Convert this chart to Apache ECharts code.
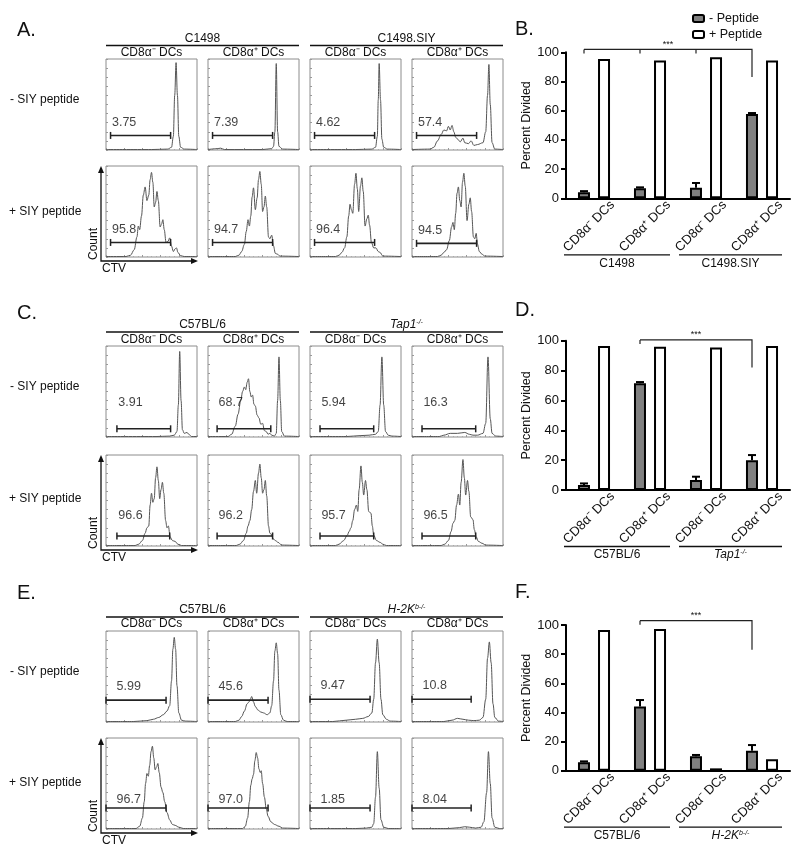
<!DOCTYPE html>
<html>
<head>
<meta charset="utf-8">
<script src="https://cdn.jsdelivr.net/npm/echarts@6/dist/echarts.min.js"></script>
<style>
  html, body { margin: 0; padding: 0; background: #fff; }
  #chart { width: 800px; height: 846px; }
</style>
</head>
<body>
<div id="chart"></div>
<script>
const FONT = '"Liberation Sans", Arial, Helvetica, sans-serif'
const INK = '#111'

// ---------- flow histograms: [CTV (% of axis), count (% of max)] ----------
// order: top row (- SIY) col 1..4, then bottom row (+ SIY) col 1..4
const histA = [
  [[0,0.5],[50,0.5],[68,1],[72,3],[74,15],[75.5,60],[77,96],[78.5,60],[80,15],[82,3],[86,1],[100,0.5]],
  [[0,0.5],[10,1.5],[14,2],[18,0.5],[60,0.5],[70,1.5],[72,4],[73.5,20],[75,95],[76.5,20],[78,4],[82,1],[100,0.5]],
  [[0,0.5],[50,0.5],[68,1],[72,3],[74,15],[75,55],[76,95],[77.5,55],[79,12],[81,3],[85,1],[100,0.5]],
  [[0,0.5],[20,1],[24,3],[28,10],[32,17],[35,22],[38,21],[40,26],[42,22],[44,27],[46,20],[48,14],[50,12],[53,9],[56,13],[58,8],[62,7],[65,10],[68,5],[72,6],[78,8],[81,20],[83,60],[84.5,94],[86,50],[88,8],[91,1],[100,0.5]],
  [[0,0.5],[22,0.5],[27,2],[31,8],[34,22],[35.5,34],[37,30],[39,45],[41,68],[43,77],[45,62],[47,68],[48.5,85],[50,93],[51.5,82],[53,55],[54.5,60],[56,72],[57.5,62],[59.5,33],[61,36],[62.5,41],[64,30],[66,16],[68,17],[70,21],[72,12],[74,6],[76,9],[77.5,10],[79,5],[82,1.5],[86,0.5],[100,0.5]],
  [[0,0.5],[30,0.5],[34,2],[37,6],[40,14],[42,28],[44,41],[45.5,34],[47,45],[48.5,66],[50,76],[52,52],[54,65],[55.5,85],[57,94],[58.5,80],[60,50],[61.5,55],[63,67],[64.5,55],[66.5,22],[68,20],[70,24],[72,12],[74,4],[76.5,3],[79,1],[100,0.5]],
  [[0,0.5],[28,0.5],[32,2],[35,5],[38,10],[40.5,22],[42.5,45],[44,58],[45.5,52],[47,48],[49,80],[50.5,92],[52,75],[53.5,50],[55.5,78],[57,87],[58.5,72],[60.5,34],[62.5,42],[64,46],[65.5,35],[67.5,16],[70,10],[72.5,10],[75,6],[77,5],[80,1],[100,0.5]],
  [[0,0.5],[28,0.5],[32,2],[35,5],[38,8],[41,18],[43.5,33],[45,38],[46.5,30],[48,48],[49.5,70],[51,77],[52.5,62],[54,55],[55.5,82],[57,92],[58.5,78],[60.5,40],[62.5,58],[64,65],[65.5,50],[67.5,22],[69,20],[70.5,26],[72,14],[74,6],[77,3],[80,1],[100,0.5]]
]
const histC = [
  [[0,0.5],[55,0.5],[70,1],[75,2],[78,6],[79.5,35],[81,94],[82.5,40],[84,8],[86,4],[89,5],[91,3],[94,0.5],[100,0.5]],
  [[0,0.5],[22,0.5],[26,3],[30,12],[33,25],[36,40],[38,50],[40,55],[41.5,52],[43,60],[44.5,64],[46,50],[47.5,44],[49,46],[50.5,36],[52,34],[54,24],[56,21],[58,14],[60,15],[62,7],[64,6],[66,3],[68,4],[70,2],[73,1],[75,4],[76.5,40],[78,88],[79.5,40],[81,6],[84,1],[100,0.5]],
  [[0,0.5],[40,0.5],[55,1.5],[65,2],[72,3],[75,6],[77,35],[79,88],[81,35],[83,6],[86,2],[90,1],[100,0.5]],
  [[0,0.5],[30,0.5],[35,2],[42,4],[50,4],[58,5],[63,3],[67,2],[72,2],[78,4],[81,15],[83.5,88],[86,20],[88,4],[92,1],[100,0.5]],
  [[0,0.5],[32,0.5],[36,2],[40,6],[43,14],[45,20],[47,22],[48.5,45],[50,58],[51.5,48],[53,52],[54.5,75],[56,87],[57.5,72],[59,52],[60.5,62],[62,70],[63.5,58],[65.5,28],[67,20],[68.5,22],[70.5,10],[73,6],[76,5],[79,2],[83,0.5],[100,0.5]],
  [[0,0.5],[31,0.5],[35,2],[39,6],[42,14],[44,22],[46,28],[48,40],[50,60],[52,72],[53.5,58],[55.5,80],[57,90],[58.5,75],[60,58],[61.5,62],[63,72],[64.5,55],[66.5,22],[68,14],[69.5,13],[71.5,8],[74,6],[77,4],[81,1],[100,0.5]],
  [[0,0.5],[28,0.5],[32,2],[37,6],[41,12],[43,16],[45,20],[47,28],[49,40],[51,45],[52.5,38],[54,62],[56,88],[57.5,70],[59,56],[61,72],[62.5,62],[64.5,38],[67,36],[68.5,22],[70,12],[73,6],[77,4],[80,2],[84,0.5],[100,0.5]],
  [[0,0.5],[32,0.5],[36,2],[40,6],[43,16],[45,25],[47,28],[49,45],[51,57],[52.5,45],[54,70],[56,95],[57.5,75],[59,56],[61,72],[62.5,60],[64.5,32],[67,29],[68.5,18],[70.5,10],[73,5],[77,3],[81,1],[100,0.5]]
]
const histE = [
  [[0,0.5],[30,0.5],[45,1.5],[52,3],[58,5],[63,8],[67,12],[70,18],[72,45],[73.5,80],[75,93],[76.5,80],[78,40],[80,10],[83,2],[87,1],[100,0.5]],
  [[0,0.5],[30,0.5],[34,2],[37,6],[40,12],[43,20],[45,22],[46.5,25],[48,28],[50,22],[52,17],[55,13],[58,11],[61,10],[65,8],[68,10],[70,18],[72,45],[73.5,78],[75,87],[76.5,75],[78,35],[80,8],[83,2],[87,0.5],[100,0.5]],
  [[0,0.5],[25,0.5],[40,2],[50,3],[58,4],[64,6],[68,10],[70,25],[72,65],[74,91],[76,65],[78,25],[80,8],[84,3],[88,1],[100,0.5]],
  [[0,0.5],[35,0.5],[44,2],[50,4],[56,3],[62,2],[68,1.5],[74,2],[78,5],[81,25],[83,70],[85,88],[87,65],[89,20],[91,5],[95,1],[100,0.5]],
  [[0,0.5],[33,0.5],[37,3],[40,12],[42,30],[43.5,50],[45,61],[46.5,58],[48,70],[49.5,85],[51,91],[52.5,78],[54,65],[55.5,68],[57,72],[58.5,62],[60.5,46],[62.5,40],[64.5,30],[67,18],[70,10],[73,5],[76,4],[80,2],[85,0.5],[100,0.5]],
  [[0,0.5],[38,0.5],[41,3],[43.5,12],[45.5,30],[47,48],[48.5,55],[50,60],[51.5,75],[53,84],[54.5,78],[56,66],[57.5,62],[58.5,64],[60,50],[62,35],[64,22],[66,14],[69,8],[73,5],[78,3],[82,1],[100,0.5]],
  [[0,0.5],[50,0.5],[62,1],[68,2],[70,6],[72,35],[74,85],[76,45],[78,10],[81,2],[86,0.5],[100,0.5]],
  [[0,0.5],[40,0.5],[52,1.5],[58,2.5],[63,2],[70,1],[76,2],[79,8],[82,40],[84,85],[86,50],[88,12],[91,2],[96,0.5],[100,0.5]]
]

// divided gate: [from, to, level, percent]
const gatesA = [
  [5,71,16,'3.75'], [5,71,16,'7.39'], [5,71,16,'4.62'], [5,71,16,'57.4'],
  [5,71,16,'95.8'], [5,71,16,'94.7'], [5,71,16,'96.4'], [5,71,15,'94.5']
]
const gatesC = [
  [12,71,9,'3.91'], [10,69,9,'68.7'], [11,70,9,'5.94'], [11,70,9,'16.3'],
  [12,70,11,'96.6'], [10,71,11,'96.2'], [11,70,11,'95.7'], [11,70,11,'96.5']
]
const gatesE = [
  [0,66,24,'5.99'], [0,66,24,'45.6'], [0,66,25,'9.47'], [0,65,25,'10.8'],
  [0,66,23,'96.7'], [0,66,23,'97.0'], [0,66,23,'1.85'], [0,65,23,'8.04']
]

// ---------- percent divided bar charts ----------
const dcTypes = ['CD8α⁻ DCs', 'CD8α⁺ DCs', 'CD8α⁻ DCs', 'CD8α⁺ DCs']
const minusB = [4.1, 6.8, 7.3, 57.7]
const minusErrB = [0.8, 0.7, 3.2, 0.7]
const plusB = [95.4, 94.3, 96.6, 94.3]
const minusD = [3.4, 71.5, 6.7, 20.0]
const minusErrD = [1.0, 0.8, 2.2, 3.4]
const plusD = [96.5, 96.0, 95.5, 96.5]
const minusF = [5.8, 44.0, 10.0, 13.7]
const minusErrF = [0.6, 4.5, 0.8, 3.9]
const plusF = [96.6, 97.3, 1.6, 7.8]
const yTicks = [0, 20, 40, 60, 80, 100]

const strainsA = ['C1498', 'C1498.SIY']
const strainsC = ['C57BL/6', '{i|Tap1}{s|-/-}']
const strainsE = ['C57BL/6', '{i|H-2K}{s|b-/-}']

// significance brackets: [from category, to category, level, drop]
const sigB = [0, 3, 102, 83]
const sigD = [1, 3, 100.5, 82]
const sigF = [1, 3, 103, 83]
const stubsB = [0, 1, 2]
const stubsD = [1]
const stubsF = [1]

// ---------- layout ----------
const COLS = [106, 208, 310, 412]
const BOX = 91
const sections = [
  { hist: histA, gates: gatesA, strains: strainsA, letter: 'A.', letterY: 30,
    head: 39, line: 45.5, sub: 53, rows: [59, 166], rowLab: [100, 212], labDy: [14, 14], labX: null },
  { hist: histC, gates: gatesC, strains: strainsC, letter: 'C.', letterY: 313,
    head: 325, line: 332, sub: 340, rows: [346, 455], rowLab: [387, 499], labDy: [29, 22], labX: null },
  { hist: histE, gates: gatesE, strains: strainsE, letter: 'E.', letterY: 593,
    head: 610, line: 617, sub: 624, rows: [631, 738], rowLab: [672, 783], labDy: [14.6, 9], labX: 11 }
]
const bars = [
  { minus: minusB, err: minusErrB, plus: plusB, sig: sigB, stubs: stubsB, strains: strainsA,
    letter: 'B.', letterY: 29, top: 52.3, height: 146 },
  { minus: minusD, err: minusErrD, plus: plusD, sig: sigD, stubs: stubsD, strains: strainsC,
    letter: 'D.', letterY: 310, top: 340.7, height: 149.3 },
  { minus: minusF, err: minusErrF, plus: plusF, sig: sigF, stubs: stubsF, strains: strainsE,
    letter: 'F.', letterY: 592, top: 625, height: 145.7 }
]

const grids = [], xAxes = [], yAxes = [], series = [], graphics = []
const richStrain = {
  i: { fontStyle: 'italic', fontSize: 12, fontFamily: FONT, fill: INK },
  s: { fontStyle: 'italic', fontSize: 7, fontFamily: FONT, fill: INK, verticalAlign: 'top', padding: [0, 0, 6, 0] }
}

function text(x, y, str, opts) {
  opts = opts || {}
  return {
    type: 'text', x: x, y: y, rotation: opts.rotation || 0, silent: true,
    style: {
      text: str, fontSize: opts.size || 12, fontFamily: FONT, fill: INK,
      fontStyle: opts.italic ? 'italic' : 'normal',
      align: opts.align || 'center', textAlign: opts.align || 'center',
      verticalAlign: 'middle', textVerticalAlign: 'middle',
      rich: opts.rich
    }
  }
}
function hline(x1, x2, y, w) {
  return { type: 'line', silent: true, shape: { x1: x1, y1: y, x2: x2, y2: y }, style: { stroke: INK, lineWidth: w || 1.3 } }
}

sections.forEach(sec => {
  graphics.push(text(17, sec.letterY, sec.letter, { size: 20, align: 'left' }))
  // strain headers
  sec.strains.forEach((s, j) => {
    const x1 = COLS[j * 2], x2 = COLS[j * 2 + 1] + BOX
    graphics.push(text((x1 + x2) / 2, sec.head, s, { rich: richStrain }))
    graphics.push(hline(x1, x2, sec.line))
  })
  COLS.forEach((cx, j) => {
    graphics.push(text(cx + BOX / 2, sec.sub, j % 2 === 0 ? 'CD8α⁻ DCs' : 'CD8α⁺ DCs'))
  })
  graphics.push(text(10, sec.rowLab[0], '- SIY peptide', { align: 'left' }))
  graphics.push(text(9, sec.rowLab[1], '+ SIY peptide', { align: 'left' }))
  // Count / CTV axes
  const bTop = sec.rows[1], bBot = sec.rows[1] + BOX
  const ax = 101, ay = bBot + 4
  graphics.push({ type: 'polyline', silent: true, shape: { points: [[ax, bTop + 6], [ax, ay], [COLS[0] + BOX - 5, ay]] },
    style: { stroke: INK, lineWidth: 1.3, fill: null } })
  graphics.push({ type: 'polygon', silent: true, shape: { points: [[ax - 3, bTop + 7], [ax, bTop], [ax + 3, bTop + 7]] }, style: { fill: INK } })
  graphics.push({ type: 'polygon', silent: true, shape: { points: [[COLS[0] + BOX - 6, ay - 3], [COLS[0] + BOX + 1, ay], [COLS[0] + BOX - 6, ay + 3]] }, style: { fill: INK } })
  graphics.push(text(94, bBot - 13, 'Count', { rotation: Math.PI / 2 }))
  graphics.push(text(102, ay + 8, 'CTV', { align: 'left' }))

  sec.hist.forEach((curve, k) => {
    const row = Math.floor(k / 4), col = k % 4
    const gi = grids.length
    grids.push({ left: COLS[col], top: sec.rows[row], width: BOX, height: BOX,
      show: true, borderColor: '#8c8c8c', borderWidth: 1, backgroundColor: 'transparent' })
    const tick = { show: true, inside: true, length: 2, lineStyle: { color: '#999', width: 1 } }
    xAxes.push({ type: 'value', gridIndex: gi, min: 0, max: 100, interval: 20,
      axisLine: { show: false }, axisLabel: { show: false }, splitLine: { show: false },
      axisTick: tick, minorTick: { show: true, splitNumber: 4, length: 1, lineStyle: { color: '#aaa' } } })
    yAxes.push({ type: 'value', gridIndex: gi, min: 0, max: 100, interval: 10,
      axisLine: { show: false }, axisLabel: { show: false }, splitLine: { show: false }, axisTick: tick })
    series.push({ type: 'line', xAxisIndex: gi, yAxisIndex: gi, data: curve, smooth: 0.35, smoothMonotone: 'x',
      symbol: 'none', lineStyle: { color: '#555', width: 1 }, silent: true, z: 2 })
    const g = sec.gates[k]
    series.push({ type: 'line', xAxisIndex: gi, yAxisIndex: gi, data: [[g[0], g[2]], [g[1], g[2]]],
      symbol: 'rect', symbolSize: [1.5, 7], showSymbol: true, itemStyle: { color: '#222' },
      lineStyle: { color: '#222', width: 1.6 }, silent: true, z: 3 })
    const lx = sec.labX !== null ? sec.labX : g[0] + 1
    series.push({ type: 'scatter', xAxisIndex: gi, yAxisIndex: gi, data: [[lx, g[2] + sec.labDy[row]]],
      symbolSize: 1, itemStyle: { color: 'rgba(0,0,0,0)' }, silent: true, z: 4,
      label: { show: true, position: 'right', distance: 0, formatter: g[3],
        fontSize: 12.5, fontFamily: FONT, color: INK } })
  })
})

function bracketRenderer(sig, stubs) {
  return function (params, api) {
    const off = -10
    const a = api.coord([sig[0], sig[2]]), b = api.coord([sig[1], sig[2]])
    const d = api.coord([sig[1], sig[3]])
    const y = a[1]
    const kids = [{ type: 'polyline', shape: { points: [[a[0] + off, y], [b[0] + off, y], [b[0] + off, d[1]]] },
      style: { stroke: '#222', lineWidth: 1.2, fill: null } }]
    stubs.forEach(c => {
      const p = api.coord([c, sig[2]])
      kids.push({ type: 'line', shape: { x1: p[0] + off, y1: y, x2: p[0] + off, y2: y + 4 }, style: { stroke: '#222', lineWidth: 1.2 } })
    })
    kids.push({ type: 'text', x: (a[0] + b[0]) / 2 + off, y: y - 5,
      style: { text: '***', fontSize: 9, fontFamily: FONT, fill: INK, align: 'center', verticalAlign: 'middle' } })
    return { type: 'group', children: kids }
  }
}
function errRenderer(params, api) {
  const base = api.coord([api.value(0), api.value(1)])
  const top = api.coord([api.value(0), api.value(1) + api.value(2)])
  const x = base[0] - 10
  return { type: 'group', children: [
    { type: 'line', shape: { x1: x, y1: base[1], x2: x, y2: top[1] }, style: { stroke: '#000', lineWidth: 2 } },
    { type: 'line', shape: { x1: x - 4, y1: top[1], x2: x + 4, y2: top[1] }, style: { stroke: '#000', lineWidth: 2 } }
  ] }
}

bars.forEach(p => {
  const gi = grids.length
  graphics.push(text(515, p.letterY, p.letter, { size: 20, align: 'left' }))
  grids.push({ left: 566, top: p.top, width: 224, height: p.height })
  xAxes.push({ type: 'category', gridIndex: gi, data: dcTypes, boundaryGap: true,
    axisLine: { lineStyle: { color: '#000', width: 2 } },
    axisTick: { alignWithLabel: true, length: 5, lineStyle: { color: '#000', width: 2 } },
    axisLabel: { rotate: 45, interval: 0, margin: 23, align: 'center', verticalAlign: 'middle',
      padding: [0, 14, 0, 0], fontSize: 13, fontFamily: FONT, color: INK } })
  yAxes.push({ type: 'value', gridIndex: gi, min: 0, max: 100, interval: 20,
    name: 'Percent Divided', nameLocation: 'middle', nameGap: 31,
    nameTextStyle: { fontSize: 12.5, fontFamily: FONT, color: INK },
    axisLine: { show: true, lineStyle: { color: '#000', width: 2 } },
    axisTick: { show: true, length: 5, lineStyle: { color: '#000', width: 2 } },
    splitLine: { show: false },
    axisLabel: { fontSize: 13, fontFamily: FONT, color: INK, margin: 7, formatter: v => yTicks.includes(v) ? String(v) : '' } })
  series.push({ type: 'bar', name: '- Peptide', xAxisIndex: gi, yAxisIndex: gi, data: p.minus,
    barWidth: 12, barGap: '67%', itemStyle: { color: '#808080', borderColor: '#000', borderWidth: 2 }, z: 2 })
  series.push({ type: 'bar', name: '+ Peptide', xAxisIndex: gi, yAxisIndex: gi, data: p.plus,
    barWidth: 12, barGap: '67%', itemStyle: { color: '#fff', borderColor: '#000', borderWidth: 2 }, z: 2 })
  series.push({ type: 'custom', xAxisIndex: gi, yAxisIndex: gi, silent: true, z: 3,
    data: p.minus.map((v, i) => [i, v, p.err[i]]), renderItem: errRenderer })
  series.push({ type: 'custom', xAxisIndex: gi, yAxisIndex: gi, silent: true, z: 3, clip: false,
    data: [[p.sig[0], p.sig[2]]], renderItem: bracketRenderer(p.sig, p.stubs) })
  // strain group lines under the category labels
  const base = p.top + p.height
  graphics.push(hline(564, 670, base + 56.5))
  graphics.push(hline(679, 782, base + 56.5))
  graphics.push(text(617, base + 65, p.strains[0], { rich: richStrain }))
  graphics.push(text(730.5, base + 65, p.strains[1], { rich: richStrain }))
})

const chart = echarts.init(document.getElementById('chart'))
chart.setOption({
  animation: false,
  backgroundColor: '#fff',
  legend: {
    data: ['- Peptide', '+ Peptide'], orient: 'vertical', left: 687, top: 7,
    itemWidth: 11, itemHeight: 7, itemGap: 3, icon: 'roundRect', selectedMode: false,
    textStyle: { fontSize: 12.5, fontFamily: FONT, color: INK }
  },
  grid: grids,
  xAxis: xAxes,
  yAxis: yAxes,
  series: series,
  graphic: graphics
})
</script>
</body>
</html>
